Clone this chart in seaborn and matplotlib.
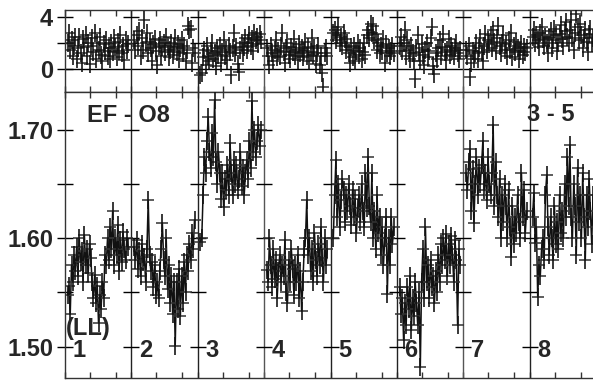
import numpy as np
import pandas as pd
import matplotlib
matplotlib.use("Agg")
import matplotlib.pyplot as plt
import seaborn as sns

sns.set_theme(style="white")
plt.rcParams["font.family"] = ["Liberation Sans", "DejaVu Sans"]
plt.rcParams["font.weight"] = "bold"

segment_labels = ["1", "2", "3", "4", "5", "6", "7", "8"]

# lower panel (EF - O8 ratio), one list per segment
low_1 = [1.548, 1.556, 1.530, 1.575, 1.560, 1.585, 1.570, 1.592, 1.565, 1.600, 1.578, 1.588,
         1.560, 1.603, 1.575, 1.590, 1.568, 1.595, 1.582, 1.560, 1.545, 1.566, 1.540, 1.556,
         1.522, 1.548, 1.535, 1.560, 1.545, 1.585, 1.575, 1.600, 1.580, 1.610, 1.590, 1.625,
         1.575, 1.600, 1.585, 1.612, 1.570, 1.598, 1.578, 1.606, 1.590, 1.580, 1.600, 1.592]
low_2 = [1.592, 1.580, 1.598, 1.572, 1.588, 1.565, 1.595, 1.578, 1.583, 1.560, 1.590, 1.635,
         1.585, 1.570, 1.578, 1.555, 1.575, 1.548, 1.560, 1.545, 1.570, 1.590, 1.614, 1.580,
         1.565, 1.600, 1.553, 1.575, 1.540, 1.565, 1.530, 1.560, 1.501, 1.560, 1.535, 1.572,
         1.528, 1.565, 1.540, 1.578, 1.550, 1.585, 1.570, 1.595, 1.580, 1.605, 1.590, 1.617]
low_3 = [1.597, 1.600, 1.640, 1.675, 1.660, 1.690, 1.712, 1.680, 1.665, 1.697, 1.675, 1.728,
         1.670, 1.650, 1.680, 1.660, 1.636, 1.660, 1.629, 1.655, 1.645, 1.668, 1.640, 1.688,
         1.660, 1.640, 1.672, 1.650, 1.668, 1.645, 1.655, 1.680, 1.648, 1.665, 1.640, 1.660,
         1.672, 1.655, 1.690, 1.665, 1.727, 1.680, 1.700, 1.675, 1.690, 1.705, 1.685, 1.700]
low_4 = [1.571, 1.560, 1.600, 1.575, 1.555, 1.590, 1.562, 1.580, 1.545, 1.570, 1.585, 1.560,
         1.575, 1.565, 1.598, 1.550, 1.540, 1.580, 1.560, 1.590, 1.572, 1.548, 1.575, 1.560,
         1.585, 1.545, 1.570, 1.533, 1.560, 1.590, 1.600, 1.635, 1.585, 1.600, 1.570, 1.590,
         1.560, 1.605, 1.580, 1.565, 1.595, 1.575, 1.610, 1.582, 1.560, 1.600, 1.575, 1.590]
low_5 = [1.600, 1.640, 1.672, 1.620, 1.650, 1.610, 1.635, 1.655, 1.645, 1.615, 1.640, 1.625,
         1.650, 1.630, 1.612, 1.645, 1.620, 1.636, 1.605, 1.628, 1.640, 1.615, 1.650, 1.625,
         1.610, 1.660, 1.628, 1.675, 1.630, 1.615, 1.660, 1.600, 1.625, 1.590, 1.640, 1.605,
         1.620, 1.585, 1.610, 1.575, 1.600, 1.620, 1.549, 1.600, 1.575, 1.620, 1.595, 1.610]
low_6 = [1.555, 1.530, 1.545, 1.506, 1.540, 1.520, 1.555, 1.535, 1.565, 1.515, 1.545, 1.528,
         1.560, 1.540, 1.520, 1.550, 1.481, 1.560, 1.590, 1.545, 1.610, 1.560, 1.575, 1.545,
         1.580, 1.555, 1.565, 1.540, 1.570, 1.550, 1.585, 1.560, 1.595, 1.575, 1.600, 1.580,
         1.604, 1.565, 1.595, 1.575, 1.602, 1.585, 1.560, 1.598, 1.580, 1.520, 1.590, 1.575]
low_7 = [1.660, 1.645, 1.670, 1.682, 1.625, 1.664, 1.614, 1.650, 1.675, 1.640, 1.665, 1.650,
         1.668, 1.690, 1.645, 1.660, 1.635, 1.675, 1.650, 1.640, 1.660, 1.705, 1.630, 1.670,
         1.640, 1.620, 1.655, 1.600, 1.640, 1.615, 1.650, 1.630, 1.600, 1.645, 1.610, 1.583,
         1.630, 1.595, 1.620, 1.605, 1.640, 1.615, 1.600, 1.660, 1.620, 1.645, 1.605, 1.625]
low_8 = [1.620, 1.642, 1.596, 1.610, 1.546, 1.575, 1.565, 1.590, 1.600, 1.580, 1.640, 1.658,
         1.610, 1.585, 1.620, 1.600, 1.580, 1.630, 1.595, 1.615, 1.590, 1.640, 1.605, 1.625,
         1.600, 1.650, 1.620, 1.675, 1.630, 1.686, 1.620, 1.600, 1.650, 1.630, 1.585, 1.665,
         1.615, 1.640, 1.600, 1.660, 1.620, 1.580, 1.640, 1.610, 1.655, 1.625, 1.595, 1.640]

# upper panel, one list per segment
up_1 = [2.0, 2.8, 1.5, 2.2, 1.0, 1.8, 2.5, 0.8, 1.6, 2.5, 1.2, 0.5, 2.3, 1.7, 2.6, 1.0,
        2.0, 0.4, 1.8, 2.4, 1.3, 2.8, 0.8, 2.0, 1.5, 2.5, 1.1, 0.6, 1.9, 1.4, 2.2, 1.0,
        1.6, 0.8, 2.0, 1.3, 2.4, 1.7, 0.9, 2.1, 1.4, 2.6, 1.2, 1.8, 0.7, 2.2, 1.5, 1.9]
up_2 = [2.2, 1.5, 2.6, 1.8, 2.9, 1.0, 2.4, 1.5, 3.8, 2.0, 2.8, 1.2, 2.1, 1.6, 0.6, 1.9,
        2.3, 1.4, 0.3, 1.8, 2.2, 1.0, 1.7, 2.0, 1.3, 2.5, 1.8, 0.9, 1.5, 2.0, 1.1, 1.7,
        2.4, 1.3, 1.9, 0.8, 1.6, 2.2, 1.2, 1.8, 0.6, 1.5, 3.3, 3.0, 3.1, 0.5, 1.6, 1.2]
up_3 = [-0.5, -0.3, 0.9, 1.5, 0.3, 1.8, 1.0, 0.6, 1.4, 2.0, 0.8, 1.2, 0.2, 1.6, 1.1, 1.8,
        0.5, 1.3, 2.2, 1.0, 1.5, 0.7, 1.8, 1.3, -0.5, 1.6, 2.8, 1.2, 1.7, 0.4, -0.2, 1.5,
        2.0, 1.2, 1.7, 2.4, 1.5, 2.0, 2.6, 1.8, 2.3, 1.4, 2.8, 2.2, 2.5, 1.9, 2.7, 2.2]
up_4 = [1.6, 1.0, 0.3, 1.8, 1.2, 0.6, 1.5, 2.2, 0.9, 1.4, 1.0, 1.8, 2.8, 1.3, 0.5, 1.6,
        2.0, 1.1, 0.8, 1.7, 1.3, 2.3, 1.0, 1.5, 0.7, 1.9, 1.2, 1.6, 0.9, 1.4, 2.1, 1.0,
        1.7, 0.6, 1.3, 2.4, 1.1, 1.6, 0.4, 1.2, 1.8, 0.3, 1.0, -0.3, -1.4, 1.2, 1.6, 1.0]
up_5 = [2.8, 3.0, 2.2, 2.6, 3.2, 2.0, 2.5, 1.8, 2.8, 2.3, 1.5, 2.0, 1.2, 0.5, 1.7, 0.9,
        1.8, 0.6, 1.4, 2.0, 1.1, 1.6, 0.8, 1.3, 2.0, 1.1, 2.6, 3.0, 2.4, 3.5, 2.8, 3.3,
        2.2, 2.7, 1.5, 2.0, 1.2, 1.8, 1.4, 2.3, 0.5, 1.9, 1.2, 1.6, 1.0, 1.4, 1.8, 1.2]
up_6 = [1.8, 2.5, 1.4, 2.0, 3.0, 1.0, 2.2, 1.5, 0.8, 1.8, 1.2, 0.6, -0.8, 1.6, 2.6, 1.3,
        0.6, 1.9, 1.1, 0.3, 1.5, 2.0, 0.9, 1.4, 2.4, 3.2, 0.2, -0.4, 1.2, 0.8, 1.6, 2.2,
        1.0, 1.7, 2.7, 1.3, 0.7, 1.5, 2.3, 1.1, 1.8, 1.4, 1.0, 1.6, 2.0, 1.2, 0.8, 1.5]
up_7 = [1.5, 1.0, 1.8, -0.6, 0.5, 1.4, 0.8, 1.2, 2.0, 0.8, 1.6, 2.4, 1.3, 0.6, 1.8, 2.7,
        1.5, 2.2, 1.9, 2.6, 1.6, 3.0, 2.1, 1.4, 2.4, 3.3, 1.8, 1.2, 2.0, 2.6, 1.5, 1.9,
        1.0, 2.2, 1.5, 2.8, 0.9, 1.8, 1.3, 2.1, 1.6, 0.8, 1.4, 1.9, 1.1, 1.7, 1.3, 1.6]
up_8 = [2.5, 3.0, 2.0, 2.6, 2.2, 1.7, 2.8, 3.2, 2.3, 1.8, 2.5, 2.0, 1.2, 2.4, 2.9, 1.6,
        2.2, 3.1, 2.6, 1.4, 2.0, 2.7, 3.4, 2.3, 1.8, 2.9, 3.6, 2.5, 2.0, 3.0, 3.8, 2.4,
        1.5, 2.8, 4.2, 3.2, 2.2, 3.5, 2.6, 1.6, 2.4, 3.0, 2.1, 1.3, 2.7, 3.1, 2.0, 2.4]

low_all = [low_1, low_2, low_3, low_4, low_5, low_6, low_7, low_8]
up_all = [up_1, up_2, up_3, up_4, up_5, up_6, up_7, up_8]


def build(series):
    rows = []
    for i, vals in enumerate(series):
        phase = np.linspace(0.04, 0.95, len(vals))
        for p, v in zip(phase, vals):
            rows.append({"seg": segment_labels[i], "x": i + p, "val": v})
    return pd.DataFrame(rows)


df_low = build(low_all)
df_up = build(up_all)

fig = plt.figure(figsize=(5.93, 3.82), dpi=100)
left = 65 / 593
ax_t = fig.add_axes([left, 1 - 92 / 382, 1 - left, 82 / 382])
ax_b = fig.add_axes([left, 1 - 378 / 382, 1 - left, 286 / 382])

ink = "#111111"


def crosses(df, ax):
    # horizontal arm (greyish) and vertical arm (black) of each measurement cross
    sns.scatterplot(data=df, x="x", y="val", ax=ax, marker="_", s=80, color="#333333",
                    linewidth=1.3, alpha=0.85, legend=False, zorder=3)
    sns.scatterplot(data=df, x="x", y="val", ax=ax, marker="|", s=180, color=ink,
                    linewidth=1.3, alpha=0.9, legend=False, zorder=3)


crosses(df_up, ax_t)
sns.lineplot(data=df_low, x="x", y="val", units="seg", estimator=None, sort=False, ax=ax_b,
             color=ink, linewidth=1.1, legend=False, zorder=2)
crosses(df_low, ax_b)

ax_t.axhline(0, color="black", linewidth=1.0, zorder=1)

xmax = 7.95
xt = []
for i in range(8):
    xt += [i, i + 0.376, i + 0.768]
fs = 17
for ax in (ax_t, ax_b):
    ax.set_xlim(0, xmax)
    ax.set_xlabel("")
    ax.set_ylabel("")
    ax.set_xticks([v for v in xt if v <= xmax])
    ax.set_xticklabels([])
    ax.tick_params(axis="x", which="both", direction="in", length=4, width=1,
                   top=True, bottom=True, color="#333333")
    ax.tick_params(axis="y", which="major", direction="inout", length=11, width=1,
                   labelsize=fs, pad=3, color="black", left=True)
    ax.tick_params(axis="y", which="minor", direction="inout", length=11, width=1,
                   left=True, color="black")
    for s in ("left", "top", "bottom"):
        ax.spines[s].set_color("#333333")
        ax.spines[s].set_linewidth(1.0)
    ax.spines["right"].set_visible(False)
    for i in range(1, 8):
        ax.axvline(i, color="#222222" if i % 3 != 0 else "#555555", linewidth=1.0, zorder=1)

ax_t.set_ylim(-1.77, 4.54)
ax_t.set_yticks([0, 4])
ax_t.set_yticklabels(["0", "4"], fontweight="bold")
ax_t.set_yticks([2], minor=True)

ax_b.set_ylim(1.471, 1.735)
ax_b.set_yticks([1.50, 1.60, 1.70])
ax_b.set_yticklabels(["1.50", "1.60", "1.70"], fontweight="bold")
ax_b.set_yticks([1.55, 1.65], minor=True)

# tick marks crossing the segment separators
sep_x = list(range(1, 8))
for ax, levels in ((ax_t, [2, 4]), (ax_b, [1.50, 1.55, 1.60, 1.65, 1.70])):
    for lv in levels:
        ax.plot(sep_x, [lv] * len(sep_x), ls="none", marker="_", ms=11, mew=1.0,
                color="black", zorder=1)

ax_b.text(0.33, 1.713, "EF - O8", fontsize=fs, fontweight="bold", va="center", ha="left")
ax_b.text(6.95, 1.714, "3 - 5", fontsize=fs, fontweight="bold", va="center", ha="left")
ax_b.text(0.02, 1.517, "(LL)", fontsize=fs, fontweight="bold", va="center", ha="left")
for i, lab in enumerate(segment_labels):
    ax_b.text(i + 0.11, 1.4965, lab, fontsize=fs, fontweight="bold", va="center", ha="left")

fig.savefig("out.png", dpi=100)
